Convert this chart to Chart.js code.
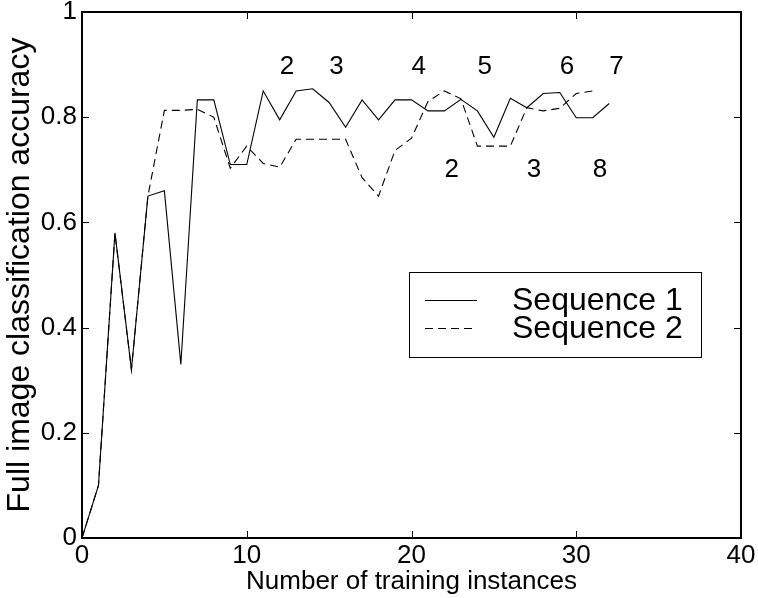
<!DOCTYPE html>
<html>
<head>
<meta charset="utf-8">
<script src="https://cdn.jsdelivr.net/npm/chart.js@4/dist/chart.umd.min.js"></script>
<style>
    html, body { margin: 0; padding: 0; background: #fff; }
    #wrap { width: 758px; height: 598px; }
</style>
</head>
<body>
<div id="wrap"><canvas id="accChart" width="758" height="598"></canvas></div>
<script>
// ---- data ----
const seq1X = [0, 1, 2, 3, 4, 5, 6, 7, 8, 9, 10, 11, 12, 13, 14, 15, 16, 17, 18, 19, 20, 21, 22, 23, 24, 25, 26, 27, 28, 29, 30, 31, 32];
const seq1Acc = [0, 0.10, 0.58, 0.32, 0.65, 0.66, 0.33, 0.833, 0.833, 0.71, 0.71, 0.85, 0.795, 0.85, 0.854, 0.828, 0.781, 0.833, 0.795, 0.833, 0.833, 0.812, 0.812, 0.834, 0.812, 0.762, 0.836, 0.818, 0.845, 0.847, 0.799, 0.799, 0.826];
const seq2X = [0, 1, 2, 3, 4, 5, 6, 7, 8, 9, 10, 11, 12, 13, 14, 15, 16, 17, 18, 19, 20, 21, 22, 23, 24, 25, 26, 27, 28, 29, 30, 31];
const seq2Acc = [0, 0.10, 0.58, 0.32, 0.65, 0.813, 0.813, 0.815, 0.80, 0.703, 0.745, 0.712, 0.705, 0.758, 0.758, 0.758, 0.758, 0.685, 0.65, 0.737, 0.76, 0.83, 0.85, 0.835, 0.745, 0.745, 0.745, 0.818, 0.812, 0.817, 0.845, 0.85];

const xTicks = [0, 10, 20, 30, 40];
const yTicks = [0, 0.2, 0.4, 0.6, 0.8, 1];

// numbers written on the plot (left edge at x, vertically centred at y)
const noteX = [12, 15, 20, 24, 29, 32, 22, 27, 31];
const noteY = [0.895, 0.895, 0.895, 0.895, 0.895, 0.895, 0.7, 0.7, 0.7];
const noteText = ['2', '3', '4', '5', '6', '7', '2', '3', '8'];

const FONT = "'Liberation Sans', Arial, Helvetica, sans-serif";

const toPoints = (xs, ys) => xs.map((x, i) => ({ x: x, y: ys[i] }));

// box + inward ticks on all four sides
const boxPlugin = {
    id: 'box',
    afterDraw(chart) {
        const { ctx, chartArea: a, scales } = chart;
        ctx.save();
        ctx.strokeStyle = '#000';
        ctx.lineWidth = 1;
        const len = 7;
        ctx.beginPath();
        xTicks.forEach(v => {
            const px = Math.round(scales.x.getPixelForValue(v)) + 0.5;
            ctx.moveTo(px, a.bottom); ctx.lineTo(px, a.bottom - len);
            ctx.moveTo(px, a.top); ctx.lineTo(px, a.top + len);
        });
        yTicks.forEach(v => {
            const py = Math.round(scales.y.getPixelForValue(v)) + 0.5;
            ctx.moveTo(a.left, py); ctx.lineTo(a.left + len, py);
            ctx.moveTo(a.right, py); ctx.lineTo(a.right - len, py);
        });
        ctx.stroke();
        ctx.lineWidth = 2;
        ctx.strokeRect(a.left, a.top, a.right - a.left, a.bottom - a.top);
        ctx.restore();
    }
};

const notesPlugin = {
    id: 'notes',
    afterDatasetsDraw(chart) {
        const { ctx, scales } = chart;
        ctx.save();
        ctx.fillStyle = '#000';
        ctx.font = '26px ' + FONT;
        ctx.textAlign = 'left';
        ctx.textBaseline = 'middle';
        noteText.forEach((t, i) => {
            ctx.fillText(t, scales.x.getPixelForValue(noteX[i]), scales.y.getPixelForValue(noteY[i]));
        });
        ctx.restore();
    }
};

// legend box drawn inside the plot like the original
const legendPlugin = {
    id: 'boxLegend',
    afterDraw(chart) {
        const { ctx } = chart;
        const bx = 409, by = 272, bw = 292, bh = 85;
        ctx.save();
        ctx.fillStyle = '#fff';
        ctx.fillRect(bx, by, bw, bh);
        ctx.strokeStyle = '#000';
        ctx.lineWidth = 1;
        ctx.strokeRect(bx + 0.5, by + 0.5, bw, bh);
        ctx.font = '32px ' + FONT;
        ctx.textBaseline = 'middle';
        ctx.fillStyle = '#000';
        chart.data.datasets.forEach((ds, i) => {
            const y = 300 + i * 28;
            ctx.setLineDash(ds.borderDash || []);
            ctx.beginPath();
            ctx.moveTo(425, y + 0.5);
            ctx.lineTo(477, y + 0.5);
            ctx.stroke();
            ctx.setLineDash([]);
            ctx.fillText(ds.label, 512, y + 1);
        });
        ctx.restore();
    }
};

new Chart(document.getElementById('accChart'), {
    type: 'line',
    data: {
        datasets: [
            {
                label: 'Sequence 1',
                data: toPoints(seq1X, seq1Acc),
                borderColor: '#000',
                borderWidth: 1.1,
                pointRadius: 0,
                tension: 0,
                fill: false,
            },
            {
                label: 'Sequence 2',
                data: toPoints(seq2X, seq2Acc),
                borderColor: '#000',
                borderWidth: 1.1,
                borderDash: [8, 5],
                pointRadius: 0,
                tension: 0,
                fill: false,
            }
        ]
    },
    options: {
        responsive: false,
        animation: false,
        layout: { padding: { top: 12, right: 17, left: 0, bottom: 0 } },
        plugins: { legend: { display: false }, tooltip: { enabled: false } },
        scales: {
            x: {
                type: 'linear',
                min: 0, max: 40,
                afterBuildTicks: s => { s.ticks = xTicks.map(v => ({ value: v })); },
                afterFit: s => { s.height = 60; s.paddingLeft = 0; s.paddingRight = 0; },
                grid: { display: false, drawTicks: false },
                border: { display: false },
                ticks: { color: '#000', font: { family: FONT, size: 26 }, padding: 2, maxRotation: 0 },
                title: { display: true, text: 'Number of training instances', color: '#000', font: { family: FONT, size: 26 }, padding: { top: 0, bottom: 1 } }
            },
            y: {
                min: 0, max: 1,
                afterBuildTicks: s => { s.ticks = yTicks.map(v => ({ value: v })); },
                afterFit: s => { s.width = 82; s.paddingTop = 0; s.paddingBottom = 0; },
                grid: { display: false, drawTicks: false },
                border: { display: false },
                ticks: { color: '#000', font: { family: FONT, size: 26 }, padding: 5, callback: v => String(+v.toFixed(1)) },
                title: { display: true, text: 'Full image classification accuracy', color: '#000', font: { family: FONT, size: 32 }, padding: { top: 1, bottom: 0 } }
            }
        }
    },
    plugins: [boxPlugin, notesPlugin, legendPlugin]
});
</script>
</body>
</html>
